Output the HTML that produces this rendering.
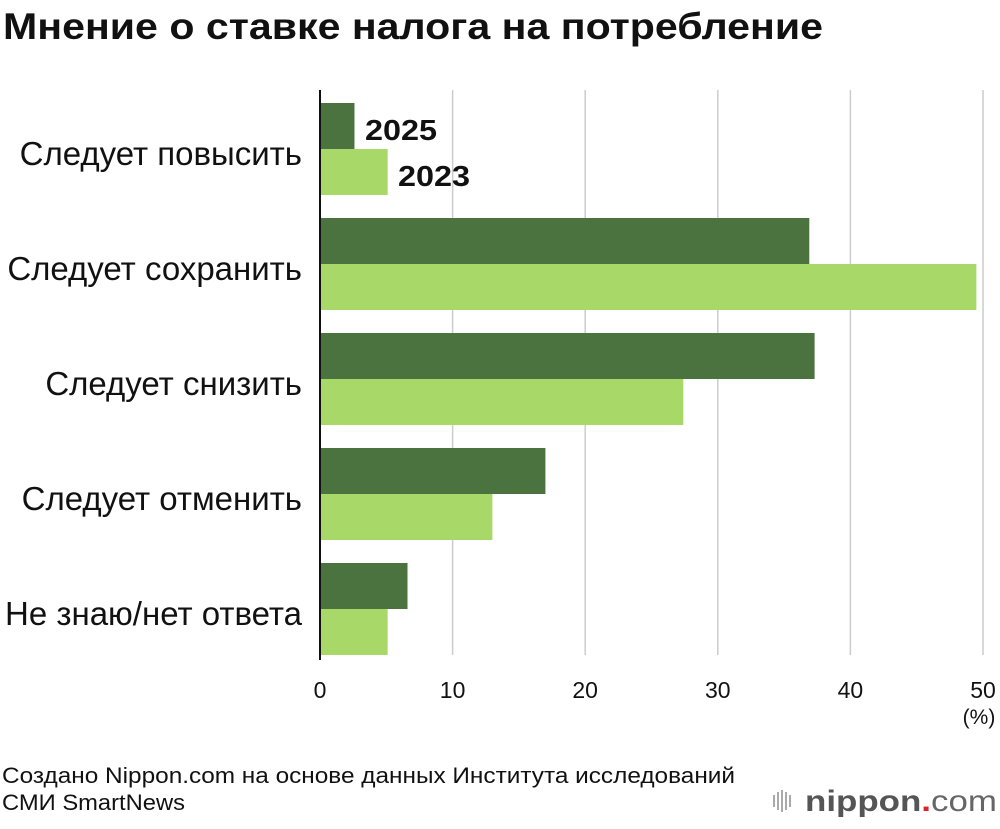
<!DOCTYPE html>
<html><head><meta charset="utf-8"><style>
body{margin:0;width:1000px;height:824px;background:#fff;font-family:"Liberation Sans",sans-serif;overflow:hidden}
</style></head><body>
<svg width="1000" height="824" xmlns="http://www.w3.org/2000/svg">
<text x="3" y="39" font-size="37" font-weight="bold" fill="#111" textLength="820" lengthAdjust="spacingAndGlyphs">Мнение о ставке налога на потребление</text>
<g id="grid"></g>
<g id="bars"></g>
<g id="labels"></g>
<g id="ticks"></g>
<line x1="320" y1="90" x2="320" y2="660" stroke="#111" stroke-width="2"/>
<text x="979" y="724" font-size="21" text-anchor="middle" fill="#111">(%)</text>
<text x="365" y="140" font-size="29" font-weight="bold" fill="#111" textLength="72" lengthAdjust="spacingAndGlyphs">2025</text>
<text x="398" y="186" font-size="29" font-weight="bold" fill="#111" textLength="72" lengthAdjust="spacingAndGlyphs">2023</text>
<text x="2" y="783" font-size="22" fill="#111" textLength="733" lengthAdjust="spacingAndGlyphs">Создано Nippon.com на основе данных Института исследований</text>
<text x="2" y="810" font-size="22" fill="#111" textLength="183" lengthAdjust="spacingAndGlyphs">СМИ SmartNews</text>
<g>
<g fill="#aaa"><rect x="773" y="795" width="2" height="12"/><rect x="777" y="792" width="2" height="18"/><rect x="781" y="790" width="2" height="22"/><rect x="785" y="792" width="2" height="18"/><rect x="789" y="795" width="2" height="12"/></g>
<text x="805" y="811" font-size="30" font-weight="bold" fill="#555" textLength="192" lengthAdjust="spacingAndGlyphs">nippon<tspan fill="#e0202a">.</tspan><tspan font-weight="normal" fill="#666">com</tspan></text>
</g>
</svg>
<script>
const categories=["Следует повысить","Следует сохранить","Следует снизить","Следует отменить","Не знаю/нет ответа"];
const values2025=[2.6,36.9,37.3,17.0,6.6];
const values2023=[5.1,49.5,27.4,13.0,5.1];
const tickLabels=[0,10,20,30,40,50];
const NS="http://www.w3.org/2000/svg";
const x0=320,x1=983,xmax=50;
const xs=v=>x0+(x1-x0)*v/xmax;
const rowTop=i=>103+i*115;
const bh=46;
function mk(tag,attrs,parent){const e=document.createElementNS(NS,tag);for(const k in attrs)e.setAttribute(k,attrs[k]);document.getElementById(parent).appendChild(e);return e;}
tickLabels.forEach(t=>{
 if(t>0){const l=mk('line',{x1:xs(t),x2:xs(t),y1:90,y2:655,stroke:'#ccc','stroke-width':1.5},'grid');
 
 }
 const tx=mk('text',{x:xs(t),y:698,'font-size':23,'text-anchor':'middle',fill:'#111'},'ticks');
 tx.textContent=t;
 
 
});
categories.forEach((c,i)=>{
 const y=rowTop(i);
 const a=mk('rect',{x:x0,y:y,width:xs(values2025[i])-x0,height:bh,fill:'#4a7340'},'bars');
 
 
 const b=mk('rect',{x:x0,y:y+bh,width:xs(values2023[i])-x0,height:bh,fill:'#a8d868'},'bars');
 
 
 const t=mk('text',{x:302,y:y+bh+16,'font-size':33,'text-anchor':'end',fill:'#111'},'labels');
 t.textContent=c;
 
 
});
</script>
</body></html>
